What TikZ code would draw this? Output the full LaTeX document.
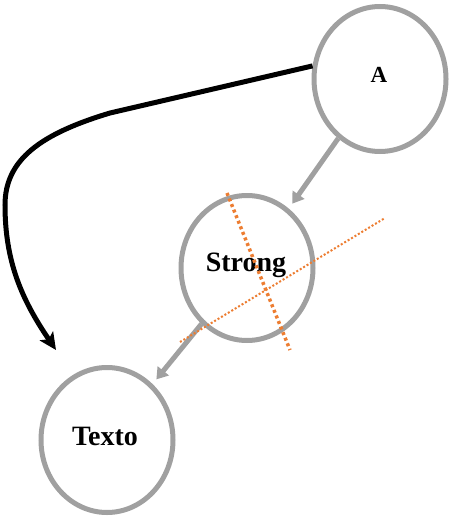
\documentclass[tikz,border=0pt]{standalone}
\usepackage{fontspec}
\setmainfont{Liberation Serif}
\usetikzlibrary{shapes.geometric,arrows.meta}
\definecolor{nodegray}{RGB}{160,160,160}
\definecolor{dotorange}{RGB}{237,125,49}
\tikzset{
  bubble/.style={ellipse, draw=nodegray, line width=5pt, minimum width=132pt, minimum height=145pt, inner sep=0pt, fill=white},
  grayarrow/.style={draw=nodegray, line width=5pt, -{Triangle[length=11pt,width=14pt]}},
  blackarrow/.style={draw=black, line width=5pt, -{Stealth[length=17pt,width=16pt,inset=4pt]}},
  lbl/.style={font=\fontsize{28}{30}\selectfont\bfseries},
}
\begin{document}
\begin{tikzpicture}[x=1pt,y=-1pt]
\useasboundingbox (0,0) rectangle (449,527);
\node[bubble] (A) at (380,79) {};
\node[font=\fontsize{23}{24}\selectfont\bfseries] (Alab) at (379,75) {A};
\node[bubble] (S) at (247,268) {};
\node[bubble] (T) at (107,440) {};
\node[lbl] (Slab) at (246,265) {Strong};
\node[lbl] (Tlab) at (105,436) {Texto};
\draw[grayarrow, shorten >=6pt] (A) -- (S);
\draw[grayarrow, shorten >=6pt] (S) -- (T);
\coordinate (tip) at (56,350);
\draw[blackarrow] (A.169) -- (110,113) .. controls (40,134) and (5,160) .. (5,205) .. controls (5,262) and (22,300) .. (tip);
\coordinate (d1a) at (227,193);
\coordinate (d1b) at (290,350);
\coordinate (d2a) at (180,342);
\coordinate (d2b) at (385,218);
\draw[dotorange, line width=3.5pt, dash pattern=on 3pt off 3pt] (d1a) -- (d1b);
\draw[dotorange, line width=2pt, dash pattern=on 2pt off 2pt] (d2a) -- (d2b);
\end{tikzpicture}
\end{document}
